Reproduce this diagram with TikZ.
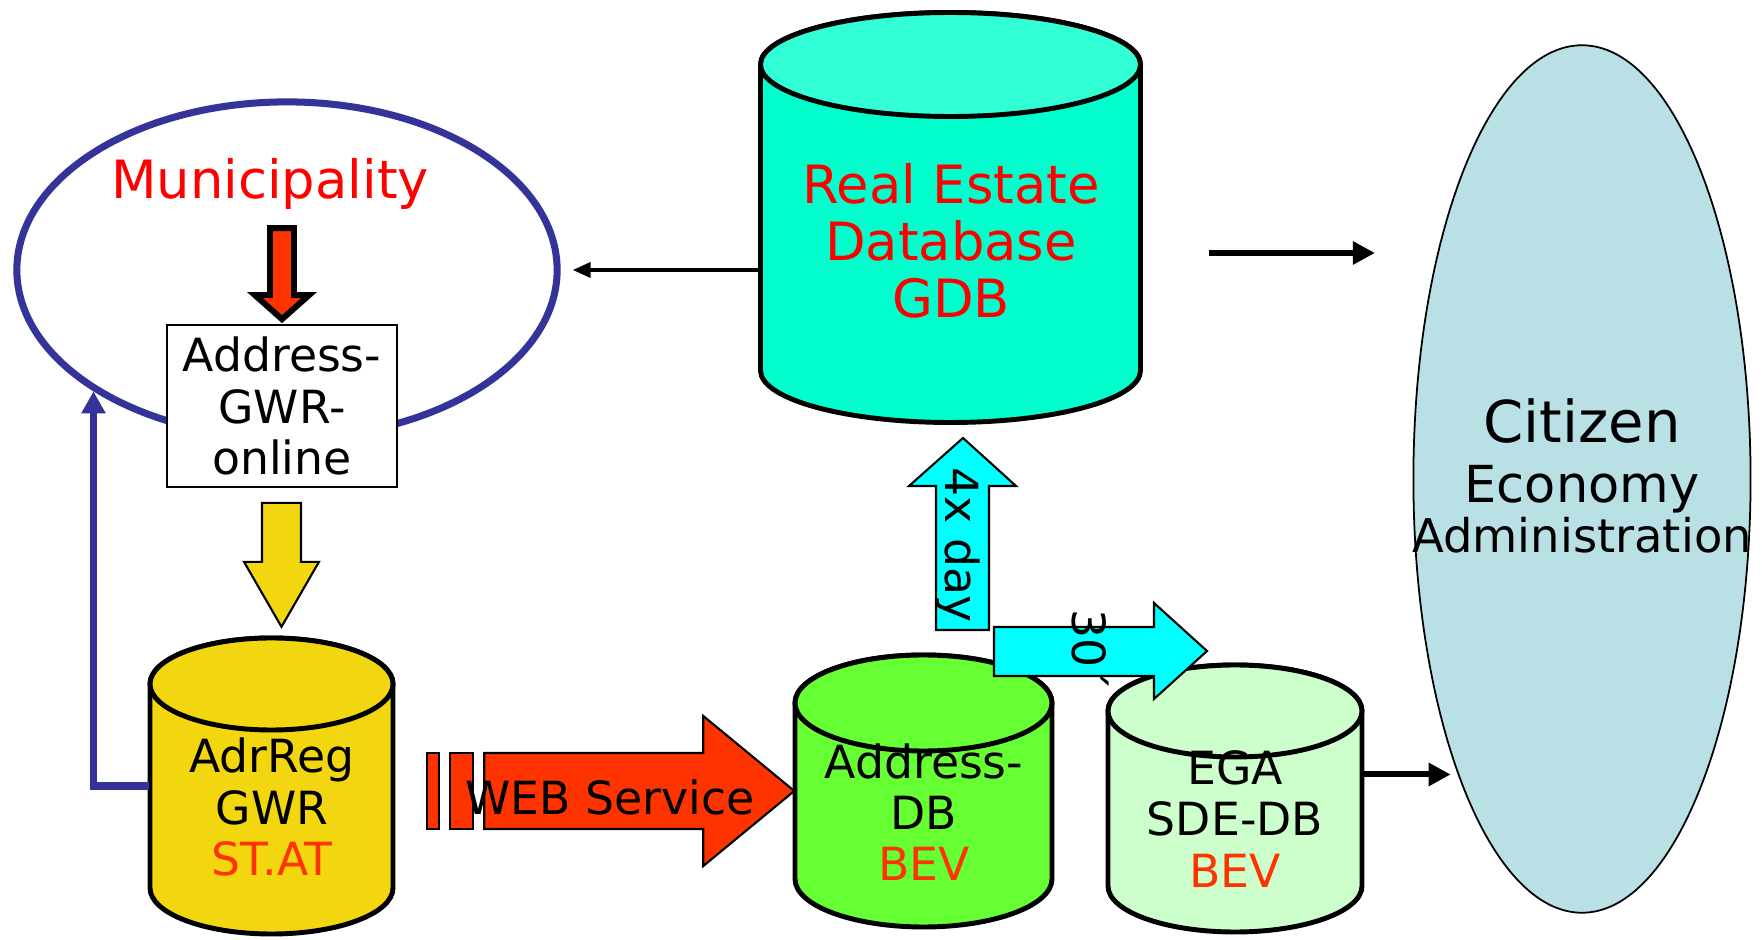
\documentclass[tikz,border=0pt]{standalone}
\usepackage{fontspec}
\setmainfont{DejaVu Sans}
\usepackage{xcolor}
\usepackage{tikz}
\usetikzlibrary{shapes,arrows.meta,positioning,calc,fit}

\definecolor{muniblue}{HTML}{333399}
\definecolor{redtext}{HTML}{FF0000}
\definecolor{orangered}{HTML}{FF3300}
\definecolor{adryellow}{HTML}{F2D60F}
\definecolor{adrgreen}{HTML}{66FF33}
\definecolor{egagreen}{HTML}{CCFFCC}
\definecolor{gdbteal}{HTML}{00FFCC}
\definecolor{gdbtop}{HTML}{33FFD6}
\definecolor{flowcyan}{HTML}{00FFFF}
\definecolor{citizenblue}{HTML}{B9E0E4}

\tikzset{
  dbline/.style={draw=black, line width=1.4pt},
  dbtext/.style={font=\fontsize{13}{14.6}\selectfont, align=center},
  bigtext/.style={font=\fontsize{15}{16.2}\selectfont, align=center, text=redtext},
  blockarrow/.style={draw=black, line width=0.6pt, line join=miter},
  thinlink/.style={-{Triangle[length=0.18cm, width=0.15cm]}, line width=1.1pt},
  thicklink/.style={-{Triangle[length=0.22cm, width=0.22cm]}, line width=1.7pt},
  bluelink/.style={-{Triangle[length=0.22cm, width=0.23cm]}, draw=muniblue, line width=2pt},
}

% database cylinder: name, left, right, top, bottom, end radius, body fill, top fill
\newcommand{\dbcylinder}[8]{%
  \draw[dbline, fill=#7] (#2,#4+#6) -- (#2,#5-#6)
    arc[start angle=180, end angle=0, x radius={(#3-#2)/2}, y radius=#6]
    -- (#3,#4+#6)
    arc[start angle=0, end angle=-180, x radius={(#3-#2)/2}, y radius=#6] -- cycle;
  \draw[dbline, fill=#8] ({(#2+#3)/2},#4+#6) ellipse [x radius={(#3-#2)/2}, y radius=#6];
  \node[fit={(#2,#4) (#3,#5)}, inner sep=0pt] (#1) {};
}

\begin{document}
\begin{tikzpicture}[x=0.01cm, y=-0.01cm]
    \path[use as bounding box, fill=white] (0,0) rectangle (1762,940);

    % Municipality
    \node[ellipse, draw=muniblue, line width=2pt, minimum width=5.4cm, minimum height=3.36cm] (muni) at (287,270) {};
    \node[bigtext, anchor=base] (munitxt) at (270,199) {Municipality};
    \node[draw, fill=white, line width=0.6pt, minimum width=2.29cm, minimum height=1.57cm, dbtext] (gwronline) at (282,406) {Address-\\GWR-\\online};

    % input into the online register
    \draw[blockarrow, line width=1.7pt, fill=orangered] (gwronline.north) ++(0,-5) -- ++(27,-24) -- ++(-15,0) -- ++(0,-67)
        -- ++(-24,0) -- ++(0,67) -- ++(-15,0) -- cycle;
    \draw[blockarrow, fill=adryellow] ([xshift=-0.2cm, yshift=-0.15cm]gwronline.south) -- ++(39,0) -- ++(0,59) -- ++(18,0)
        -- ++(-37.5,65) -- ++(-37.5,-65) -- ++(18,0) -- cycle;

    % Databases
    \dbcylinder{adrreg}{150}{393}{638}{934}{46}{adryellow}{adryellow}
    \node[dbtext] (adrregtxt) at (272,807) {AdrReg\\GWR\\\textcolor{orangered}{ST.AT}};
    \dbcylinder{gdb}{760.5}{1140.5}{12.5}{422.5}{52}{gdbteal}{gdbtop}
    \node[bigtext] (gdbtxt) at (951,241) {Real Estate\\Database\\GDB};
    \dbcylinder{adrdb}{795}{1052}{655}{927}{48}{adrgreen}{adrgreen}
    \node[dbtext] (adrdbtxt) at (924,812) {Address-\\DB\\\textcolor{orangered}{BEV}};
    \dbcylinder{ega}{1108}{1362}{665}{932}{46}{egagreen}{egagreen}
    \node[dbtext] (egatxt) at (1235,819) {EGA\\SDE-DB\\\textcolor{orangered}{BEV}};

    % Links
    \draw[bluelink] (adrreg.west) -| (muni.south west);
    \draw[thinlink] (gdb.west |- muni.east) -- ([xshift=0.12cm]muni.east);

    % WEB Service
    \draw[blockarrow, fill=orangered] (adrdb.west) ++(-367,-38) rectangle ++(12,76);
    \draw[blockarrow, fill=orangered] (adrdb.west) ++(-344,-38) rectangle ++(23,76);
    \draw[blockarrow, fill=orangered] (adrdb.west) -- ++(-91,-75) -- ++(0,37) -- ++(-219,0) -- ++(0,76)
        -- ++(219,0) -- ++(0,37) -- cycle;
    \node[dbtext] (websvc) at ([xshift=-1.84cm, yshift=-0.06cm]adrdb.west) {WEB Service};

    % Updates
    \draw[blockarrow, fill=flowcyan] (936,630) -- (936,486) -- (909,486) -- (963,438) -- (1016,486)
        -- (989,486) -- (989,630) -- cycle;
    \node[dbtext, rotate=-90] (daytxt) at (958,545) {4x day};
    \draw[blockarrow, fill=flowcyan] (994,627) -- (1154,627) -- (1154,603) -- (1207,651) -- (1154,699)
        -- (1154,676) -- (994,676) -- cycle;
    \node[dbtext, rotate=-90] (mintxt) at (1090,650) {30´};

    % Users
    \node[ellipse, draw, fill=citizenblue, line width=0.5pt, minimum width=3.37cm, minimum height=8.67cm] (citizen) at (1582,479) {};
    \node[anchor=base, font=\fontsize{16.4}{18}\selectfont] (citizentxt) at (1582,443) {Citizen};
    \node[anchor=base, font=\fontsize{14.5}{16}\selectfont] (economytxt) at (1582,503) {Economy};
    \node[anchor=base, font=\fontsize{13.2}{15}\selectfont] (admintxt) at (1582,553) {Administration};

    \coordinate (gdbout) at (1209,253);
    \coordinate (citizenin) at (1375,253);
    \draw[thicklink] (gdbout) -- (citizenin);
    \draw[thicklink] ([yshift=0.24cm]ega.east) -- ++(88,0);
\end{tikzpicture}
\end{document}
